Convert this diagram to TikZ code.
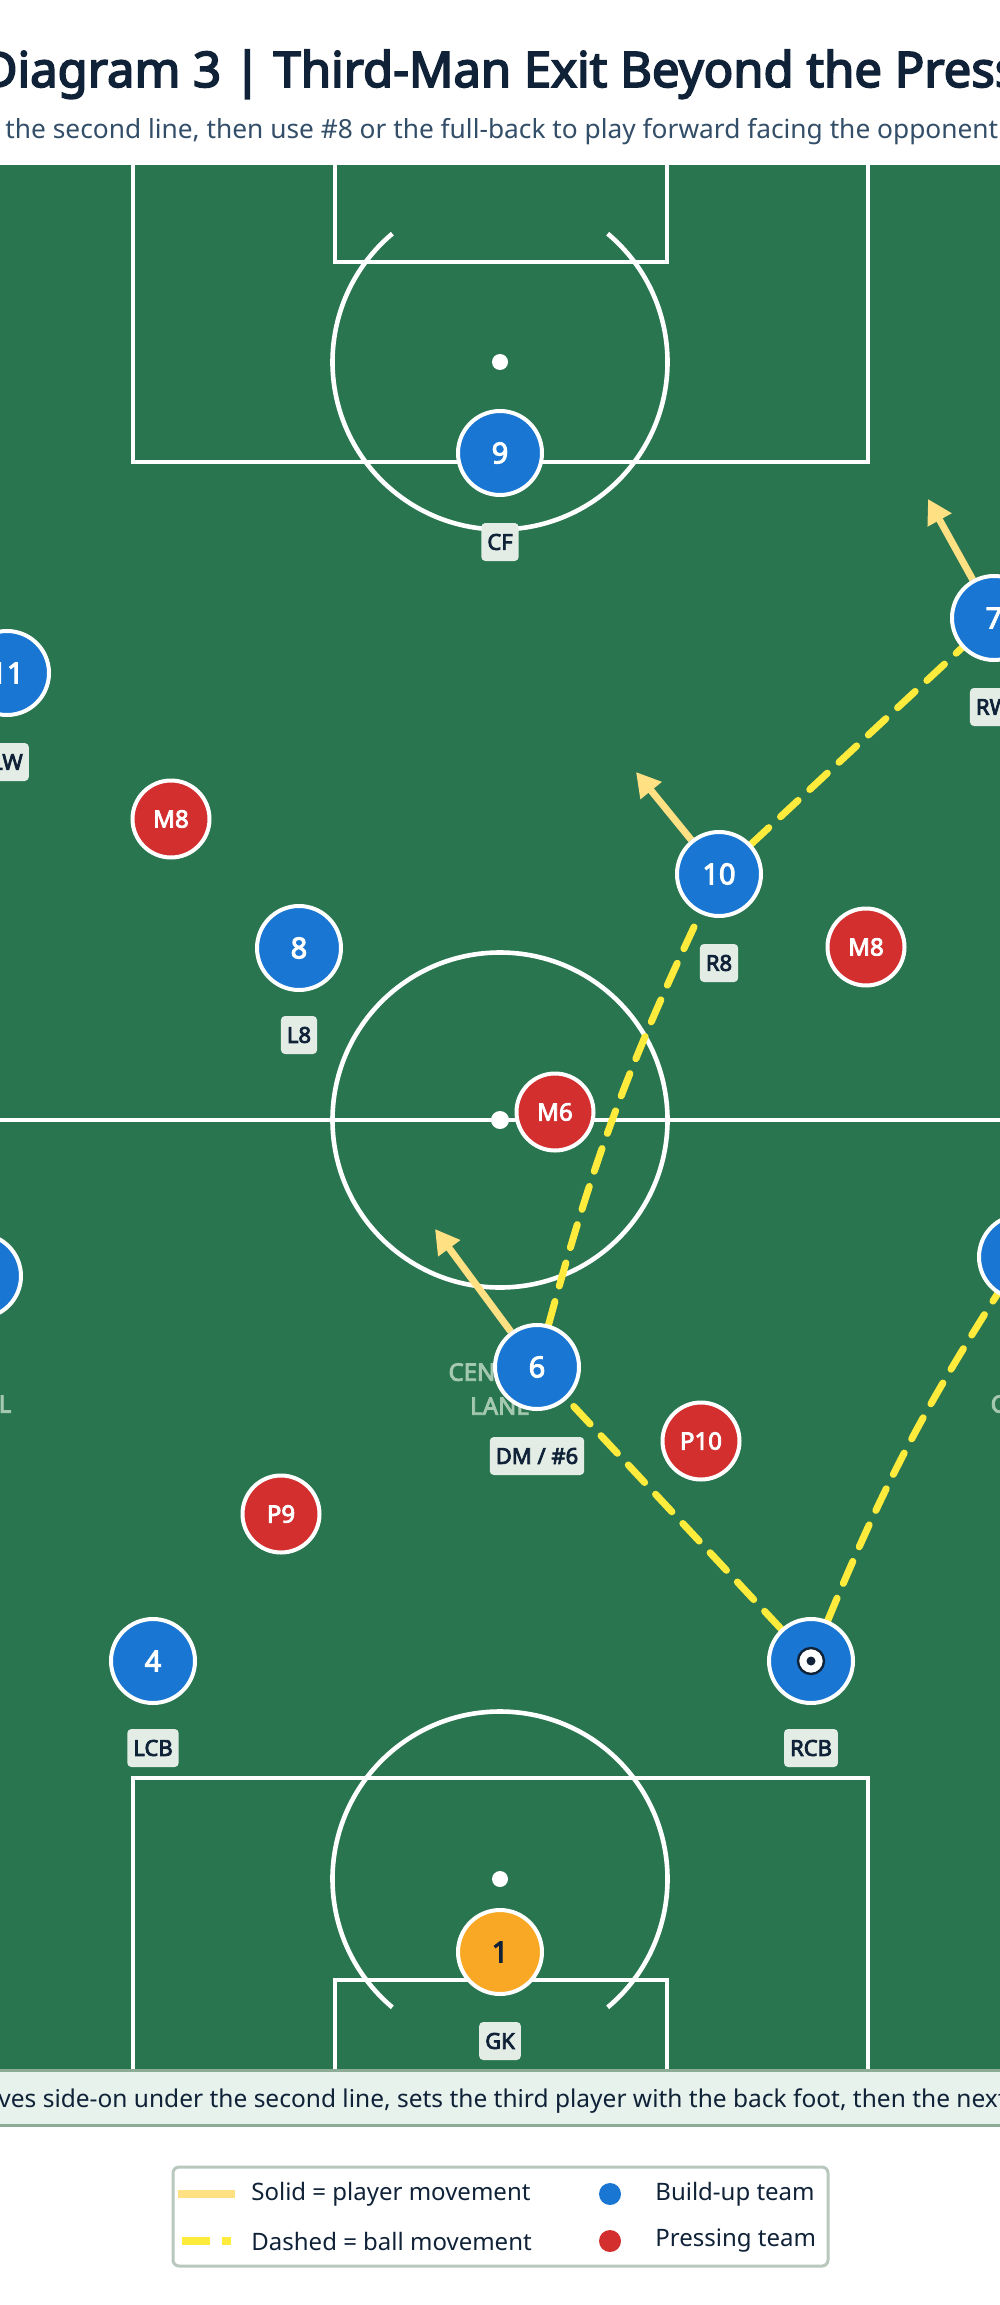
\documentclass[tikz,border=0pt]{standalone}
\usepackage{fontspec}
\setmainfont{Noto Sans}[BoldFont={Noto Sans}, BoldFeatures={FakeBold=3.5}]
\usetikzlibrary{arrows.meta}

\definecolor{pitch}{RGB}{41,117,80}
\definecolor{build}{RGB}{25,118,210}
\definecolor{press}{RGB}{211,47,47}
\definecolor{keeper}{RGB}{249,168,37}
\definecolor{runcol}{RGB}{255,224,130}
\definecolor{passcol}{RGB}{255,235,59}
\definecolor{ink}{RGB}{16,34,56}
\definecolor{subink}{RGB}{51,78,104}
\definecolor{tagfill}{RGB}{227,237,230}
\definecolor{capfill}{RGB}{232,242,236}
\definecolor{capline}{RGB}{140,172,150}
\definecolor{legline}{RGB}{184,200,188}
\definecolor{zonetxt}{RGB}{165,200,177}

\tikzset{
    bplayer/.style={circle, fill=build, draw=white, line width=2pt, minimum size=42pt,
        inner sep=0pt, text=white, font=\bfseries\fontsize{14.5}{16}\selectfont},
    rplayer/.style={circle, fill=press, draw=white, line width=2pt, minimum size=38.5pt,
        inner sep=0pt, text=white, font=\bfseries\fontsize{12}{13}\selectfont},
    gkplayer/.style={bplayer, fill=keeper, text=ink},
    tag/.style={fill=tagfill, rounded corners=2pt, text=ink, inner xsep=3pt,
        minimum height=19pt, font=\bfseries\fontsize{11}{12}\selectfont},
    ball/.style={circle, fill=white, draw=ink, line width=1.2pt, minimum size=13pt, inner sep=0pt},
    zone/.style={text=zonetxt, align=center, font=\bfseries\fontsize{12}{17}\selectfont},
    pline/.style={white, line width=2.3pt},
    moverun/.style={runcol, line width=3.5pt, -{Triangle[length=12pt,width=13pt]}},
    ballpass/.style={passcol, line width=3.5pt, line cap=round, dash pattern=on 12pt off 8pt},
    legtext/.style={anchor=west, inner sep=0pt, text=ink, font=\fontsize{12}{14}\selectfont}
}

\pgfdeclarelayer{pitchlayer}
\pgfdeclarelayer{linelayer}
\pgfsetlayers{pitchlayer,linelayer,main}

\begin{document}
\begin{tikzpicture}[x=0.5pt, y=0.5pt]
    \useasboundingbox (0,0) rectangle (1000,-2305);

    \begin{pgfonlayer}{pitchlayer}
    % Pitch
    \fill[white] (0,0) rectangle (1000,-2305);
    \fill[pitch] (0,-165) rectangle (1000,-2069);

    \draw[pline] (133,-165) -- (133,-462) -- (868,-462) -- (868,-165);
    \draw[pline] (335,-165) -- (335,-262) -- (667,-262) -- (667,-165);
    \fill[white] (500,-362) circle (8);
    \draw[pline] (500,-362) ++(50:167.5) arc[start angle=50, end angle=-230, radius=167.5];

    \draw[pline] (0,-1120) -- (1000,-1120);
    \draw[pline] (500,-1120) circle (167.5);
    \fill[white] (500,-1120) circle (9);

    \draw[pline] (133,-2069) -- (133,-1778) -- (868,-1778) -- (868,-2069);
    \draw[pline] (335,-2069) -- (335,-1980) -- (667,-1980) -- (667,-2069);
    \fill[white] (500,-1879) circle (8);
    \draw[pline] (500,-1879) ++(-50:167.5) arc[start angle=-50, end angle=230, radius=167.5];

    % Lanes
    \node[zone] (lzone) at (-44,-1404) {CHANNEL};
    \node[zone] (czone) at (500,-1389) {CENTRAL\\LANE};
    \node[zone] (rzone) at (1046,-1404) {CHANNEL};
    \end{pgfonlayer}

    % Title
    \node[anchor=base, inner sep=0pt, text=ink, font=\bfseries\fontsize{24.5}{28}\selectfont]
        (title) at (500,-87) {Diagram 3 | Third-Man Exit Beyond the Press};
    \node[anchor=base west, inner sep=0pt, text=subink, font=\fontsize{13.15}{15}\selectfont]
        (subtitle) at (5,-139) {the second line, then use \#8 or the full-back to play forward facing the opponent};

    % Define nodes
    \node[bplayer] (n9) at (500,-453) {9};
    \node[tag] (cf) at (500,-542) {CF};

    \node[bplayer] (n11) at (7,-673) {11};
    \node[tag] (lw) at (7,-762) {LW};

    \node[bplayer] (n7) at (994,-618) {7};
    \node[tag] (rw) at (993,-707) {RW};

    \node[rplayer] (m8l) at (171,-819) {M8};
    \node[rplayer] (m8r) at (866,-947) {M8};

    \node[bplayer] (n8) at (299,-948) {8};
    \node[tag] (l8) at (299,-1035) {L8};

    \node[bplayer] (n10) at (719,-874) {10};
    \node[tag] (r8) at (719,-963) {R8};

    \node[rplayer] (m6) at (555,-1112) {M6};

    \node[bplayer] (lfb) at (-21,-1276) {};
    \node[bplayer] (rfb) at (1021,-1257) {};

    \node[bplayer] (n6) at (537,-1367) {6};
    \node[tag] (dm) at (537,-1456) {DM / \#6};

    \node[rplayer] (p10) at (701,-1441) {P10};
    \node[rplayer] (p9) at (281,-1514) {P9};

    \node[bplayer] (n4) at (153,-1661) {4};
    \node[tag] (lcb) at (153,-1748) {LCB};

    \node[bplayer] (rcb) at (811,-1661) {};
    \node[ball] (ball) at (rcb) {};
    \fill[ink] (ball) circle (4.5);
    \node[tag] (rcbtag) at (811,-1748) {RCB};

    \node[gkplayer] (n1) at (500,-1952) {1};
    \node[tag] (gk) at (500,-2041) {GK};

    \coordinate (t7) at (928,-499);
    \coordinate (t10) at (636,-772);
    \coordinate (t6) at (435,-1229);

    % Draw edges
    \begin{pgfonlayer}{linelayer}
    \draw[ballpass] (rcb) -- (n6);
    \draw[ballpass] (n6) to[bend left=5] (n10);
    \draw[ballpass] (n10) -- (n7);
    \draw[ballpass] (rcb) to[bend left=5] (rfb);

    \draw[moverun] (n7) -- (t7);
    \draw[moverun] (n10) -- (t10);
    \draw[moverun] (n6) -- (t6);
    \end{pgfonlayer}

    % Caption
    \draw[capline, fill=capfill, line width=1.5pt] (-10,-2070.5) rectangle (1010,-2125.5);
    \node[anchor=base west, inner sep=0pt, text=ink, font=\fontsize{12.25}{14}\selectfont]
        (caption) at (-2,-2107) {ves side-on under the second line, sets the third player with the back foot, then the next};

    % Legend
    \draw[legline, fill=white, line width=1.5pt, rounded corners=3pt] (173,-2167) rectangle (828,-2266);
    \draw[runcol, line width=4pt] (178,-2194) -- (235,-2194);
    \draw[passcol, line width=4pt, dash pattern=on 14pt off 6pt] (182,-2241) -- (231,-2241);
    \node[legtext] (solid) at (251,-2194) {Solid = player movement};
    \node[legtext] (dashed) at (251,-2241) {Dashed = ball movement};
    \fill[build] (610,-2194) circle (11);
    \fill[press] (610,-2241) circle (11);
    \node[legtext] (team1) at (655,-2194) {Build-up team};
    \node[legtext] (team2) at (655,-2241) {Pressing team};
\end{tikzpicture}
\end{document}
